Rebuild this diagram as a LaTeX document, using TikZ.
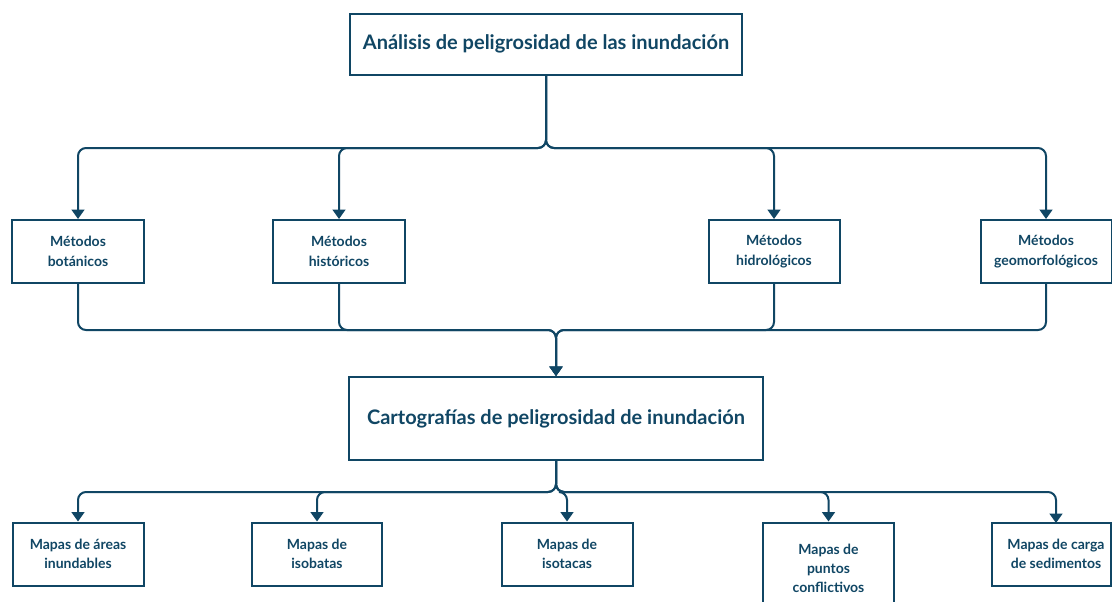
\documentclass[tikz,border=0pt]{standalone}
\usepackage{fontspec}
\setmainfont{Lato}
\usetikzlibrary{arrows.meta}
\definecolor{ink}{RGB}{16,70,100}
\begin{document}
\begin{tikzpicture}[x=0.75pt,y=-0.75pt,
  wh/.style 2 args={minimum width=0.75pt*#1,minimum height=0.75pt*#2},
  box/.style={draw=ink,line width=1.5pt,fill=white,text=ink,
    font=\bfseries\fontsize{10.5}{14.5}\selectfont,align=center,inner sep=0pt},
  big/.style={box,font=\bfseries\fontsize{15}{18}\selectfont},
  conn/.style={draw=ink,line width=1.5pt,rounded corners=6pt,
    -{Triangle[width=9.5pt,length=7pt]}}]
\useasboundingbox[fill=white] (0,0) rectangle (1112,601);

\node[big,wh={392}{61}] (top) at (546,44) {Análisis de peligrosidad de las inundación};

\node[box,wh={132}{63}] (m1) at (78,251.5) {Métodos\\botánicos};
\node[box,wh={132}{63}] (m2) at (339,251.5) {Métodos\\históricos};
\node[box,wh={131}{63}] (m3) at (774,251.5) {Métodos\\hidrológicos};
\node[box,wh={131}{63}] (m4) at (1046,251.5) {Métodos\\geomorfológicos};

\node[big,wh={414}{83}] (carto) at (556,418.5) {Cartografías de peligrosidad de inundación};

\node[box,wh={131}{63}] (b1) at (78,554) {Mapas de áreas\\inundables};
\node[box,wh={130}{63}] (b2) at (317,554) {Mapas de\\isobatas};
\node[box,wh={131}{63}] (b3) at (567,554) {Mapas de\\isotacas};
\node[box,wh={131}{92}] (b4) at (828.5,568.5) {Mapas de\\puntos\\conflictivos};
\node[box,wh={119}{63}] (b5) at (1051.5,554) {\hspace*{6.75pt}Mapas de carga\\\hspace*{6.75pt}de sedimentos};

\coordinate (j1) at (546,148);
\coordinate (j2) at (556,330);
\coordinate (j3) at (556,492);
\coordinate (b5in) at (1056,523);

\foreach \t in {m1,m2,m3,m4}
  \draw[conn] (top.south) -- (j1) -| (\t.north);
\foreach \s in {m1,m2,m3,m4}
  \draw[conn] (\s.south) |- (j2) -- (carto.north);
\foreach \t in {b1,b2,b3,b4}
  \draw[conn] (carto.south) -- (j3) -| (\t.north);
\draw[conn] (carto.south) -- (j3) -| (b5in);
\end{tikzpicture}
\end{document}
